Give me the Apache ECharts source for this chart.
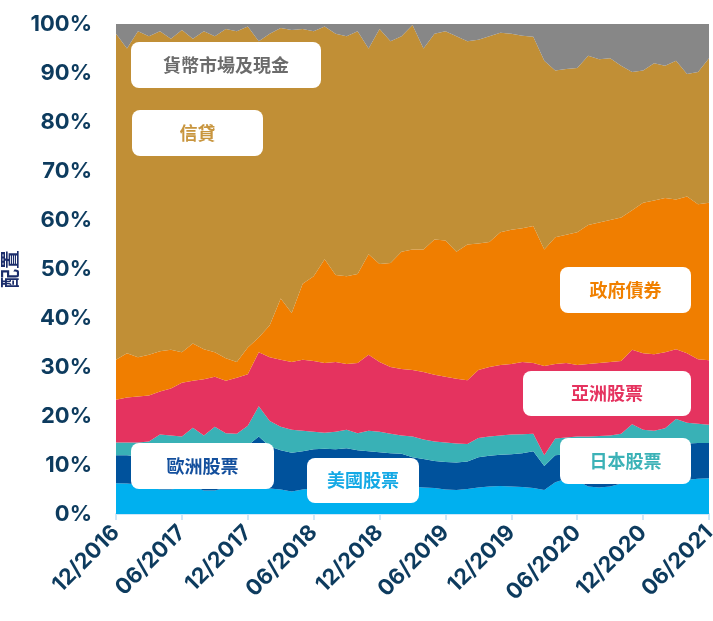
<!DOCTYPE html>
<html lang="zh-Hant">
<head>
<meta charset="UTF-8">
<title>配置</title>
<style>
    html, body { margin: 0; padding: 0; background: #fff; }
    #main { width: 713px; height: 621px; }
</style>
</head>
<body>
<div id="main"></div>
<script src="https://cdn.jsdelivr.net/npm/echarts@6/dist/echarts.min.js"></script>
<script>
// month labels, Dec 2016 .. Jun 2021
var months = [
    '12/2016','01/2017','02/2017','03/2017','04/2017','05/2017','06/2017','07/2017','08/2017','09/2017',
    '10/2017','11/2017','12/2017','01/2018','02/2018','03/2018','04/2018','05/2018','06/2018','07/2018',
    '08/2018','09/2018','10/2018','11/2018','12/2018','01/2019','02/2019','03/2019','04/2019','05/2019',
    '06/2019','07/2019','08/2019','09/2019','10/2019','11/2019','12/2019','01/2020','02/2020','03/2020',
    '04/2020','05/2020','06/2020','07/2020','08/2020','09/2020','10/2020','11/2020','12/2020','01/2021',
    '02/2021','03/2021','04/2021','05/2021','06/2021'
];

// allocation (%) per month
var usEquity = [
    6.3,6.2,6.0,5.6,5.0,5.0,5.3,5.6,4.8,4.8,
    5.4,5.6,5.8,5.5,5.2,5.0,4.6,5.0,5.3,5.5,
    5.6,5.6,5.5,5.4,5.4,5.3,5.5,5.6,5.4,5.3,
    5.0,4.9,5.1,5.4,5.6,5.7,5.6,5.5,5.3,4.9,
    6.5,7.2,6.8,5.6,5.4,5.6,6.2,6.4,6.5,6.6,
    6.8,6.9,7.0,7.2,7.3
];
var euEquity = [
    5.7,5.8,5.8,6.2,7.0,7.2,7.0,6.8,7.7,7.8,
    7.4,7.6,8.2,10.3,8.6,8.0,7.9,7.8,7.9,7.8,
    7.6,7.8,7.5,7.4,7.2,7.1,6.8,6.0,5.8,5.5,
    5.6,5.6,5.6,6.2,6.3,6.4,6.6,6.9,7.5,4.9,
    5.5,5.0,5.7,7.2,7.6,7.6,7.2,7.2,7.3,7.4,
    7.4,7.4,7.4,7.3,7.2
];
var jpEquity = [
    2.6,2.6,2.8,3.0,4.2,3.8,3.5,5.2,3.5,5.2,
    3.7,3.2,4.0,6.2,5.2,4.8,4.7,4.2,3.6,3.3,
    3.6,3.8,3.5,4.2,4.2,4.0,3.7,4.2,4.0,4.0,
    4.0,3.9,3.6,3.9,3.9,3.9,4.0,3.9,3.6,2.2,
    3.4,3.4,3.3,3.0,2.9,2.8,3.0,4.7,3.4,3.0,
    3.3,5.1,4.2,3.9,3.7
];
var asiaEquity = [
    8.7,9.2,9.4,9.4,8.8,9.6,11.0,9.6,11.5,10.2,
    10.7,11.4,10.5,11.0,13.0,13.7,13.8,14.5,14.4,14.2,
    14.2,13.4,14.3,15.5,14.2,13.6,13.6,13.6,13.8,13.6,
    13.4,13.2,13.0,13.9,14.2,14.4,14.4,14.7,14.4,18.2,
    15.2,15.2,14.6,14.8,14.9,15.0,14.8,15.2,15.6,15.6,
    15.5,14.2,14.2,13.2,13.2
];
var govBonds = [
    8.2,9.0,8.0,8.3,8.2,7.9,6.2,7.6,6.1,5.0,
    4.6,3.2,5.5,3.0,6.5,12.5,10.0,15.5,17.3,21.2,
    17.8,17.9,18.2,20.5,20.0,21.2,23.9,24.6,25.0,27.6,
    27.8,25.9,27.7,25.8,25.5,27.1,27.4,27.3,28.0,23.8,
    25.9,26.2,27.1,28.4,28.7,29.0,29.3,28.5,30.7,31.4,
    31.5,30.6,32.0,31.6,32.1
];
var credit = [
    66.5,62.2,66.5,65.0,65.3,63.5,65.8,62.2,64.9,64.5,
    67.2,67.5,65.5,60.5,59.5,55.2,57.8,52.0,50.0,47.5,
    49.2,49.0,49.5,42.0,48.0,45.3,44.0,45.8,41.0,42.0,
    42.7,44.0,41.5,41.6,42.0,40.7,40.0,39.3,38.6,38.5,
    34.0,33.8,33.5,34.5,33.3,33.0,31.0,28.2,27.0,28.0,
    27.0,28.3,25.0,27.0,29.5
];
var cash = [
    2.0,5.0,1.5,2.5,1.5,3.0,1.2,3.0,1.5,2.5,
    1.0,1.5,0.5,3.5,2.0,0.8,1.2,1.0,1.5,0.5,
    2.0,2.5,1.5,5.0,1.0,3.5,2.5,0.2,5.0,2.0,
    1.5,2.5,3.5,3.2,2.5,1.8,2.0,2.4,2.6,7.5,
    9.5,9.2,9.0,6.5,7.2,7.0,8.5,9.8,9.5,8.0,
    8.5,7.5,10.2,9.8,7.0
];

var navy = '#0d3b5e';
var axisBlue = '#cfe7f8';

function area(name, data, color) {
    return {
        name: name,
        type: 'line',
        stack: 'total',
        data: data,
        symbol: 'none',
        lineStyle: { width: 0 },
        areaStyle: { color: color, opacity: 1 },
        itemStyle: { color: color }
    };
}

// white rounded label box sitting on top of the areas
function tag(x, y, w, h, text, color) {
    return {
        type: 'group',
        left: x,
        top: y,
        children: [
            { type: 'rect', z: 100, shape: { x: 0, y: 0, width: w, height: h, r: 8 }, style: { fill: '#fff' } },
            {
                type: 'text',
                z: 101,
                style: {
                    text: text, x: w / 2, y: h / 2,
                    align: 'center', verticalAlign: 'middle',
                    fill: color, fontSize: 18, fontWeight: 'bold',
                    fontFamily: '"Noto Sans CJK TC", sans-serif'
                }
            }
        ]
    };
}

var chart = echarts.init(document.getElementById('main'));
chart.setOption({
    animation: false,
    backgroundColor: '#fff',
    grid: { left: 116, right: 4, top: 24, bottom: 107, containLabel: false, outerBoundsMode: 'none' },
    xAxis: {
        type: 'category',
        data: months,
        boundaryGap: false,
        axisLine: { lineStyle: { color: axisBlue, width: 2 } },
        axisTick: { interval: 5, length: 6, lineStyle: { color: axisBlue, width: 2 } },
        axisLabel: {
            interval: 5, rotate: 45, margin: 15,
            color: navy, fontSize: 22, fontWeight: 700, fontFamily: 'Inter'
        },
        splitLine: { show: false }
    },
    yAxis: {
        type: 'value',
        min: 0, max: 100, interval: 10,
        name: '配置',
        nameLocation: 'middle',
        nameGap: 86,
        nameRotate: 90,
        nameTextStyle: { color: '#1b2d6b', fontSize: 19, fontWeight: 'bold', fontFamily: '"Noto Sans CJK TC"' },
        axisLine: { show: false },
        axisTick: { show: false },
        splitLine: { show: false },
        axisLabel: {
            formatter: '{value}%', margin: 24,
            color: navy, fontSize: 22, fontWeight: 700, fontFamily: 'Inter'
        }
    },
    series: [
        area('美國股票', usEquity, '#00b0ef'),
        area('歐洲股票', euEquity, '#00529c'),
        area('日本股票', jpEquity, '#39b1b6'),
        area('亞洲股票', asiaEquity, '#e5335f'),
        area('政府債券', govBonds, '#f07e00'),
        area('信貸', credit, '#c18f36'),
        area('貨幣市場及現金', cash, '#878787')
    ],
    graphic: [
        tag(131, 42, 190, 46, '貨幣市場及現金', '#6b6b6b'),
        tag(132, 110, 131, 46, '信貸', '#c8953e'),
        tag(560, 267, 131, 46, '政府債券', '#f08000'),
        tag(523, 371, 168, 45, '亞洲股票', '#e5335f'),
        tag(560, 438, 131, 46, '日本股票', '#3cb2b7'),
        tag(131, 443, 143, 46, '歐洲股票', '#134f9d'),
        tag(307, 458, 112, 45, '美國股票', '#14a9e5')
    ]
});
</script>
</body>
</html>
